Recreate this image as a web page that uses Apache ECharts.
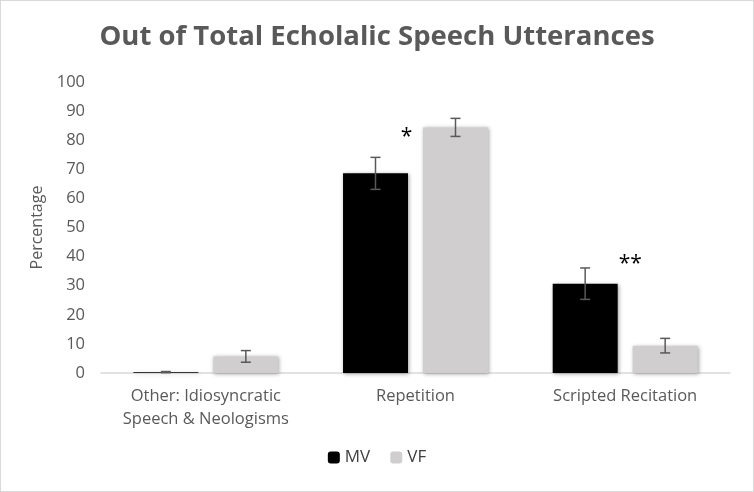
<!DOCTYPE html>
<html><head><meta charset="utf-8">
<script src="https://cdn.jsdelivr.net/npm/echarts@6/dist/echarts.min.js"></script>
<style>html,body{margin:0;padding:0;background:#fff}#c{width:752px;height:490px;border:1px solid #d9d9d9}</style>
</head><body><div id="c"></div>
<script>
const categories = ['Other: Idiosyncratic\nSpeech & Neologisms', 'Repetition', 'Scripted Recitation'];
const mvValues = [0.3, 68.6, 30.7];
const vfValues = [5.7, 84.4, 9.4];
const mvErr = [0.2, 5.5, 5.4];
const vfErr = [2.0, 3.1, 2.5];
const yTicks = [0, 10, 20, 30, 40, 50, 60, 70, 80, 90, 100];
const annotations = [
  {cat: 1, value: 81, text: '*', dx: 31},
  {cat: 2, value: 37.5, text: '**', dx: 45}
];

const chart = echarts.init(document.getElementById('c'));
const font = '"Open Sans", sans-serif';
function errSeries(vals, errs, idx) {
  return {
    type: 'custom', z: 5,
    data: vals.map((v, i) => [i, v - errs[i], v + errs[i]]),
    renderItem: function (params, api) {
      const lo = api.coord([api.value(0), api.value(1)]);
      const hi = api.coord([api.value(0), api.value(2)]);
      const off = idx === 0 ? -40 : 40;
      const x = lo[0] + off;
      const cap = 5;
      const st = {stroke: '#595959', lineWidth: 1.5};
      return {type: 'group', children: [
        {type: 'line', shape: {x1: x, y1: hi[1], x2: x, y2: lo[1]}, style: st},
        {type: 'line', shape: {x1: x - cap, y1: hi[1], x2: x + cap, y2: hi[1]}, style: st},
        {type: 'line', shape: {x1: x - cap, y1: lo[1], x2: x + cap, y2: lo[1]}, style: st}
      ]};
    }
  };
}
const shadow = {shadowBlur: 4, shadowColor: 'rgba(0,0,0,0.35)', shadowOffsetX: 1, shadowOffsetY: 1};
chart.setOption({
  animation: false,
  title: {text: 'Out of Total Echolalic Speech Utterances', left: 'center', top: 17,
    textStyle: {fontFamily: font, fontSize: 27.5, fontWeight: 'bold', color: '#595959'}},
  legend: {bottom: 20, left: 'center', itemWidth: 12, itemHeight: 12, itemGap: 20,
    textStyle: {fontFamily: font, fontSize: 17, color: '#404040'},
    data: ['MV', 'VF']},
  grid: {left: 100, right: 23, top: 81, bottom: 118, containLabel: false},
  xAxis: {type: 'category', data: categories,
    axisLine: {lineStyle: {color: '#d9d9d9', width: 1.5}}, axisTick: {show: false},
    axisLabel: {interval: 0, hideOverlap: false, fontFamily: font, fontSize: 16.5, color: '#595959', margin: 12, lineHeight: 23}},
  yAxis: {type: 'value', min: 0, max: 100, interval: 10,
    name: 'Percentage', nameLocation: 'middle', nameGap: 47,
    nameTextStyle: {fontFamily: font, fontSize: 16, color: '#595959'},
    axisLine: {show: false}, axisTick: {show: false}, splitLine: {show: false},
    axisLabel: {fontFamily: font, fontSize: 16.5, color: '#595959', margin: 16,
      formatter: v => yTicks.includes(v) ? String(v) : ''}},
  series: [
    {name: 'MV', type: 'bar', data: mvValues, barWidth: 65, barGap: '23%',
      itemStyle: Object.assign({color: '#000000'}, shadow),
      markPoint: {symbol: 'circle', symbolSize: 0, silent: true,
        data: annotations.map(a => ({coord: [a.cat, a.value], value: a.text,
          label: {show: true, offset: [a.dx, 0], formatter: a.text, fontFamily: font, fontSize: 21, color: '#000'}}))}},
    {name: 'VF', type: 'bar', data: vfValues, barWidth: 65,
      itemStyle: Object.assign({color: '#d0cece'}, shadow)},
    errSeries(mvValues, mvErr, 0),
    errSeries(vfValues, vfErr, 1)
  ]
});
</script></body></html>
